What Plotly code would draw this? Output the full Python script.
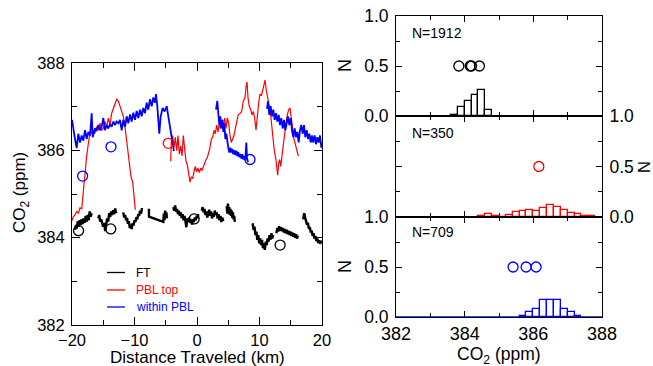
import plotly.graph_objects as go

W, H = 653, 366
FONT = "Liberation Sans, Arial, sans-serif"

# ---------------- along-track CO2 (distance in km, CO2 in ppm) ----------------
# Each series is split into flight segments; segments are drawn with gaps between them.
ft_km = [
    [-19.52, -19.36, -19.25, -19.09, -18.93, -18.77, -18.61, -18.45, -18.29, -18.13,
     -17.97, -17.81, -17.65, -17.49, -17.33, -17.17, -17.01, -16.85],
    [-15.8, -15.64, -15.49, -15.33, -15.17, -15.01, -14.85, -14.69, -14.53, -14.37,
     -14.21, -14.05, -13.89, -13.73, -13.57, -13.41, -13.25, -13.09, -12.93],
    [-11.8, -11.65, -11.5, -11.35, -11.2, -11.05, -10.9, -10.75, -10.6, -10.45, -10.3,
     -10.15, -10.0, -9.85, -9.7, -9.55, -9.4, -9.25, -9.1, -8.95, -8.8],
    [-7.7, -7.68, -5.4, -5.3, -5.2, -5.1, -5.0, -4.9, -4.8],
    [-3.8, -3.65, -3.5, -3.35, -3.2, -3.05, -2.9, -2.75, -2.6, -2.45, -2.3, -2.15, -2.0,
     -1.85, -1.7, -1.55, -1.4, -1.25, -1.1, -0.95, -0.8, -0.65, -0.5, -0.35, -0.2, -0.05,
     0.1, 0.2],
    [0.75, 0.9, 1.05, 1.2, 1.35, 1.5, 1.65, 1.8, 1.95, 2.1, 2.25, 2.4, 2.55, 2.7, 2.85,
     3.0, 3.15, 3.3, 3.45, 3.6, 3.75, 3.9, 4.05, 4.2],
    [4.75, 4.85, 4.95, 5.05, 5.15, 5.25, 5.35, 5.45, 5.55, 5.65, 5.75, 5.85, 5.95, 6.05],
    [8.9, 9.05, 9.2, 9.35, 9.5, 9.65, 9.8, 9.95, 10.1, 10.25, 10.4, 10.55, 10.7, 10.85,
     11.0, 11.15, 11.3, 11.45, 11.6, 11.75, 11.9, 12.05, 12.2],
    [12.7, 12.85, 13.0, 13.15, 13.3, 13.45, 13.6, 13.75, 13.9, 14.05, 14.2, 14.35, 14.5,
     14.65, 14.8, 14.95, 15.1, 15.25, 15.4, 15.55, 15.7, 15.85, 16.0, 16.15],
    [17.0, 17.15, 17.3, 17.45, 17.6, 17.75, 17.9, 18.05, 18.2, 18.35, 18.5, 18.65, 18.8,
     18.95, 19.1, 19.25, 19.4, 19.55, 19.7, 19.85, 20.0],
]
ft_co2 = [
    [384.18, 384.29, 384.21, 384.37, 384.25, 384.40, 384.29, 384.42, 384.31, 384.44,
     384.34, 384.50, 384.37, 384.52, 384.40, 384.60, 384.48, 384.56],
    [384.44, 384.52, 384.37, 384.42, 384.33, 384.25, 384.34, 384.15, 384.30, 384.44,
     384.37, 384.56, 384.47, 384.60, 384.52, 384.63, 384.54, 384.67, 384.56],
    [384.58, 384.46, 384.52, 384.40, 384.45, 384.32, 384.38, 384.22, 384.30, 384.20,
     384.33, 384.28, 384.40, 384.36, 384.47, 384.42, 384.54, 384.50, 384.62, 384.55, 384.68],
    [384.66, 384.48, 384.36, 384.55, 384.40, 384.62, 384.45, 384.58, 384.44],
    [384.70, 384.62, 384.74, 384.60, 384.66, 384.54, 384.62, 384.50, 384.58, 384.45,
     384.54, 384.40, 384.50, 384.30, 384.24, 384.44, 384.36, 384.46, 384.34, 384.42,
     384.30, 384.42, 384.36, 384.46, 384.40, 384.50, 384.44, 384.54],
    [384.62, 384.70, 384.58, 384.66, 384.52, 384.60, 384.46, 384.56, 384.64, 384.50,
     384.60, 384.44, 384.56, 384.48, 384.62, 384.52, 384.58, 384.44, 384.54, 384.40,
     384.50, 384.36, 384.46, 384.38],
    [384.72, 384.55, 384.78, 384.60, 384.70, 384.52, 384.66, 384.50, 384.62, 384.45,
     384.58, 384.42, 384.50, 384.36],
    [384.33, 384.18, 384.25, 384.06, 384.14, 383.95, 384.06, 383.87, 383.98, 383.83,
     383.95, 383.76, 383.87, 383.72, 383.91, 383.83, 383.98, 383.91, 384.06, 383.95,
     384.10, 383.98, 384.06],
    [384.10, 384.22, 384.14, 384.26, 384.16, 384.24, 384.15, 384.22, 384.12, 384.20,
     384.10, 384.18, 384.08, 384.16, 384.06, 384.14, 384.04, 384.12, 384.02, 384.10,
     384.00, 384.08, 383.98, 384.05],
    [384.42, 384.56, 384.46, 384.40, 384.30, 384.34, 384.20, 384.24, 384.12, 384.16,
     384.04, 384.10, 383.98, 384.04, 383.92, 383.98, 383.88, 383.94, 383.86, 383.92, 383.88],
]

pbl_top_km = [
    [-20.0, -19.79, -19.52, -19.25, -18.99, -18.72, -18.45, -18.29, -18.08, -17.87,
     -17.65, -17.44, -17.23, -17.01, -16.69, -16.37, -16.05, -15.79, -15.52, -15.25,
     -14.99, -14.72, -14.45, -14.19, -13.92, -13.65, -13.39, -13.12, -12.85, -12.59,
     -12.32, -12.05, -11.79, -11.52, -11.25, -10.99, -10.72, -10.56, -10.29, -10.08, -9.87],
    [-4.21, -4.11, -3.89, -3.68, -3.47, -3.25, -3.04, -2.83, -2.61, -2.4,
     -2.19, -1.97, -1.76, -1.55, -1.33, -1.12, -0.91, -0.69, -0.48, -0.27,
     -0.05, 0.16, 0.37, 0.59, 0.8, 1.01, 1.23, 1.44, 1.65, 1.87,
     2.08, 2.29, 2.51, 2.72, 2.93, 3.15, 3.36, 3.57, 3.79, 4.0,
     4.21, 4.43, 4.64, 4.85, 5.07, 5.28, 5.49, 5.71, 5.92, 6.13,
     6.35, 6.61, 6.88, 7.15, 7.41, 7.68, 7.84, 8.0, 8.16, 8.37,
     8.59, 8.8, 9.01, 9.23, 9.44, 9.65, 9.87, 10.08, 10.29, 10.51,
     10.72, 10.88, 11.09, 11.31, 11.52, 11.73, 11.95, 12.16, 12.37, 12.59,
     12.75, 12.91, 13.07, 13.23, 13.39, 13.6, 13.81, 14.03, 14.24, 14.45,
     14.67, 14.88, 15.09, 15.31, 15.52, 15.73, 15.95, 16.21],
]
pbl_top_co2 = [
    [384.39, 384.48, 384.52, 384.60, 384.56, 384.68, 384.66, 384.92, 385.27, 385.59,
     385.87, 386.10, 386.30, 386.38, 386.46, 386.38, 386.54, 386.46, 386.62, 386.46,
     386.50, 386.66, 386.54, 386.74, 386.58, 386.85, 386.97, 387.05, 387.17, 387.13,
     387.01, 386.93, 386.78, 386.54, 386.22, 385.95, 385.67, 385.39, 385.27, 384.92, 384.64],
    [385.75, 386.18, 386.34, 386.06, 386.30, 385.99, 386.34, 385.91, 386.10, 385.87,
     386.34, 386.03, 385.75, 385.67, 385.47, 385.27, 385.39, 385.35, 385.51, 385.63,
     385.51, 385.59, 385.49, 385.59, 385.54, 385.63, 385.69, 385.79, 385.83, 385.95,
     386.06, 386.26, 386.30, 386.46, 386.38, 386.58, 386.42, 386.62, 386.50, 386.70,
     386.58, 386.74, 386.50, 386.74, 386.62, 386.34, 386.18, 386.26, 386.34, 386.50,
     386.62, 386.82, 386.84, 386.89, 387.13, 387.21, 387.45, 387.57, 387.21, 387.01,
     386.93, 386.81, 386.89, 386.74, 386.46, 386.81, 387.09, 387.29, 387.25, 387.37,
     387.49, 387.61, 387.37, 387.17, 387.09, 386.89, 386.58, 386.22, 385.99, 385.83,
     385.67, 385.43, 385.71, 385.79, 385.63, 385.91, 386.18, 386.38, 386.62, 386.81,
     386.93, 386.97, 386.78, 386.50, 386.26, 386.14, 386.03, 385.87],
]

within_pbl_km = [
    [-20.0, -19.79, -19.52, -19.25, -18.99, -18.72, -18.45, -18.19, -17.92, -17.65,
     -17.39, -17.12, -16.85, -16.69, -16.32, -16.05, -15.79, -15.52, -15.25, -14.99,
     -14.72, -14.45, -14.19, -13.92, -13.65, -13.39, -13.12, -12.85, -12.59, -12.32,
     -12.05, -11.79, -11.52, -11.25, -10.99, -10.72, -10.45, -10.19, -9.92, -9.65,
     -9.39, -9.12, -8.85, -8.59, -8.32, -8.05, -7.79, -7.52, -7.25, -6.99,
     -6.72, -6.56, -6.35, -6.03, -5.81, -5.49, -5.17, -4.85, -4.59, -4.32,
     -4.05, -3.85, -3.7],
    [3.04, 3.25, 3.41, 3.57, 3.73, 3.89, 4.05, 4.21, 4.37, 4.53, 4.69, 4.85, 5.01, 5.17,
     5.33, 5.49, 5.65, 5.81, 5.97, 6.13, 6.29, 6.45, 6.61, 6.77, 6.93, 7.09, 7.25, 7.41,
     7.57, 7.73, 7.89, 8.0, 8.16],
    [11.2, 11.36, 11.57, 11.79, 12.0, 12.21, 12.43, 12.64, 12.85, 13.07, 13.28, 13.49,
     13.71, 13.92, 14.13, 14.35, 14.56, 14.77, 14.99, 15.2, 15.41, 15.63, 15.84, 16.05,
     16.27, 16.48, 16.69, 16.91, 17.12, 17.33, 17.55, 17.76, 17.97, 18.19, 18.4, 18.61,
     18.83, 19.04, 19.25, 19.47, 19.68, 19.89, 20.0],
]
within_pbl_co2 = [
    [386.70, 386.46, 386.26, 386.05, 386.38, 386.18, 386.34, 386.22, 386.46, 386.26,
     386.42, 386.34, 386.85, 386.30, 386.50, 386.46, 386.58, 386.46, 386.54, 386.74,
     386.46, 386.58, 386.50, 386.60, 386.54, 386.66, 386.58, 386.66, 386.62, 386.70,
     386.46, 386.70, 386.54, 386.78, 386.62, 386.82, 386.66, 386.86, 386.70, 386.90,
     386.74, 386.93, 386.78, 386.97, 386.85, 387.09, 386.93, 387.17, 387.01, 387.21,
     387.09, 387.29, 387.01, 386.38, 386.78, 386.97, 386.89, 387.01, 386.78, 386.54,
     386.35, 386.10, 385.98],
    [386.93, 387.13, 386.85, 386.58, 386.78, 386.50, 386.70, 386.42, 386.62, 386.26,
     386.38, 386.18, 386.06, 385.95, 386.06, 385.95, 386.03, 385.91, 386.00, 385.89,
     385.99, 385.87, 385.96, 385.84, 385.92, 385.81, 385.91, 385.79, 385.87, 385.77,
     386.18, 385.83, 385.73],
    [386.95, 387.13, 386.81, 387.01, 386.78, 386.93, 386.70, 386.85, 386.66, 386.81,
     386.58, 386.74, 386.50, 386.70, 386.46, 386.66, 386.78, 386.58, 386.74, 386.46,
     386.30, 386.50, 386.30, 386.42, 386.18, 386.46, 386.58, 386.38, 386.58, 386.30,
     386.46, 386.26, 386.38, 386.18, 386.34, 386.18, 386.34, 386.14, 386.30, 386.18,
     386.34, 386.06, 386.18],
]

# Mean values marked with open circles (left panel and histograms)
ft_mean_km = [-18.95, -13.8, -0.45, 13.3]
ft_mean_co2 = [384.16, 384.2, 384.43, 383.83]
pbl_top_mean_km = [-4.6]
pbl_top_mean_co2 = [386.16]
within_pbl_mean_km = [-18.3, -13.76, 8.48]
within_pbl_mean_co2 = [385.41, 386.08, 385.79]

# ---------------- CO2 frequency distributions (bin centres, 0.2 ppm bins) ----------------
ft_hist_co2 = [383.7, 383.9, 384.1, 384.3, 384.5, 384.7]
ft_hist_frac = [0.015, 0.093, 0.15, 0.21, 0.26, 0.06]
pbl_top_hist_co2 = [384.5, 384.7, 384.9, 385.1, 385.3, 385.5, 385.7, 385.9, 386.1,
                    386.3, 386.5, 386.7, 386.9, 387.1, 387.3, 387.5, 387.7]
pbl_top_hist_frac = [0.01, 0.033, 0.008, 0.0, 0.02, 0.045, 0.06, 0.07, 0.06,
                     0.085, 0.118, 0.102, 0.066, 0.043, 0.026, 0.014, 0.005]
within_pbl_hist_co2 = [385.7, 385.9, 386.1, 386.3, 386.5, 386.7, 386.9, 387.1, 387.3]
within_pbl_hist_frac = [0.01, 0.047, 0.085, 0.167, 0.173, 0.167, 0.085, 0.047, 0.013]

sample_counts = [1912, 350, 709]
series_names = ["FT", "PBL top", "within PBL"]
series_colors = ["black", "#ff0000", "#0000ff"]

km_ticks = [-20, -10, 0, 10, 20]
co2_ticks = [382, 384, 386, 388]
hist_co2_range = [382, 388]
bin_width = 0.2
mean_marker_level = 0.5


def joined(segments):
    out = []
    for i, seg in enumerate(segments):
        if i:
            out.append(None)
        out.extend(seg)
    return out


def px_x(p):
    return p / W


def px_y(p):
    return 1 - p / H


fig = go.Figure()

# ---- left panel: CO2 along the flight track ----
for km, co2, color, width in [
    (ft_km, ft_co2, series_colors[0], 2.4),
    (pbl_top_km, pbl_top_co2, series_colors[1], 1.2),
    (within_pbl_km, within_pbl_co2, series_colors[2], 1.8),
]:
    fig.add_trace(go.Scatter(x=joined(km), y=joined(co2), mode="lines",
                             line=dict(color=color, width=width),
                             connectgaps=False, showlegend=False,
                             xaxis="x", yaxis="y"))

for km, co2, color in [
    (ft_mean_km, ft_mean_co2, series_colors[0]),
    (pbl_top_mean_km, pbl_top_mean_co2, series_colors[1]),
    (within_pbl_mean_km, within_pbl_mean_co2, series_colors[2]),
]:
    fig.add_trace(go.Scatter(x=km, y=co2, mode="markers",
                             marker=dict(symbol="circle-open", size=10, color=color,
                                         line=dict(width=1.3)),
                             showlegend=False, xaxis="x", yaxis="y"))

# ---- right panels: normalised histograms ----
hist_sets = [
    (ft_hist_co2, ft_hist_frac, ft_mean_co2),
    (pbl_top_hist_co2, pbl_top_hist_frac, pbl_top_mean_co2),
    (within_pbl_hist_co2, within_pbl_hist_frac, within_pbl_mean_co2),
]
for i, (centres, frac, means) in enumerate(hist_sets):
    ax = str(i + 2)
    color = series_colors[i]
    fig.add_trace(go.Scatter(x=hist_co2_range, y=[0, 0], mode="lines",
                             line=dict(color=color, width=1.5), cliponaxis=False,
                             showlegend=False, xaxis="x" + ax, yaxis="y" + ax))
    fig.add_trace(go.Bar(x=centres, y=frac, width=bin_width,
                         marker=dict(color="white", line=dict(color=color, width=1.3)),
                         cliponaxis=False, showlegend=False,
                         xaxis="x" + ax, yaxis="y" + ax))
    fig.add_trace(go.Scatter(x=means, y=[mean_marker_level] * len(means), mode="markers",
                             marker=dict(symbol="circle-open", size=10, color=color,
                                         line=dict(width=1.3)),
                             cliponaxis=False, showlegend=False,
                             xaxis="x" + ax, yaxis="y" + ax))

axis_common = dict(showline=True, linecolor="black", linewidth=1, mirror="ticks",
                   ticks="inside", tickcolor="black", showgrid=False, zeroline=False,
                   fixedrange=True, automargin=False)

left_x_dom = [px_x(72), px_x(322)]
left_y_dom = [px_y(325), px_y(63)]
right_x_dom = [px_x(396), px_x(602)]
hist_y_doms = [[px_y(116), px_y(16)], [px_y(217), px_y(116)], [px_y(317), px_y(217)]]

layout = dict(
    width=W, height=H,
    margin=dict(l=0, r=0, t=0, b=0, autoexpand=False),
    paper_bgcolor="white", plot_bgcolor="white",
    font=dict(family=FONT, color="black"),
    showlegend=False,
    bargap=0,
    xaxis=dict(domain=left_x_dom, range=[-20, 20], anchor="y", tickvals=km_ticks,
               ticklen=8, ticklabelstandoff=0,
               minor=dict(dtick=5, tick0=0, ticklen=5, ticks="inside", tickcolor="black"),
               tickfont=dict(size=16.5), **axis_common),
    yaxis=dict(domain=left_y_dom, range=[382, 388], anchor="x", tickvals=co2_ticks,
               ticklen=8, ticklabelstandoff=3,
               minor=dict(dtick=1, tick0=0, ticklen=5, ticks="inside", tickcolor="black"),
               tickfont=dict(size=16.5), **axis_common),
)

for i in range(3):
    n = str(i + 2)
    layout["xaxis" + n] = dict(domain=right_x_dom, range=hist_co2_range, anchor="y" + n,
                               tickvals=co2_ticks, showticklabels=(i == 2),
                               ticklen=6, ticklabelstandoff=0,
                               minor=dict(dtick=1, tick0=0, ticklen=4,
                                          ticks="inside", tickcolor="black"),
                               tickfont=dict(size=18), layer="below traces",
                               **axis_common)
    layout["yaxis" + n] = dict(domain=hist_y_doms[i], range=[0, 1], anchor="x" + n,
                               tickmode="linear", tick0=0, dtick=0.5, tickformat=".1f",
                               side="right" if i == 1 else "left",
                               ticklen=6, ticklabelstandoff=3,
                               minor=dict(dtick=0.25, tick0=0, ticklen=4,
                                          ticks="inside", tickcolor="black"),
                               tickfont=dict(size=17.5), layer="below traces",
                               **axis_common)

fig.update_layout(**layout)

annotations = [
    dict(text="Distance Traveled (km)", x=px_x(197), y=px_y(357), font=dict(size=17)),
    dict(text="CO<sub>2</sub> (ppm)", x=px_x(21), y=px_y(193), textangle=-90,
         font=dict(size=17)),
    dict(text="CO<sub>2</sub> (ppm)", x=px_x(499), y=px_y(355.5), font=dict(size=17.5)),
    dict(text="N", x=px_x(345), y=px_y(66), textangle=-90, font=dict(size=18)),
    dict(text="N", x=px_x(644), y=px_y(167), textangle=-90, font=dict(size=16.5)),
    dict(text="N", x=px_x(345), y=px_y(267), textangle=-90, font=dict(size=18)),
]
for count, ytop in zip(sample_counts, [33, 133, 232]):
    annotations.append(dict(text=f"N={count}", x=px_x(410), y=px_y(ytop),
                            xanchor="left", font=dict(size=14)))

# legend key drawn inside the left panel
shapes = []
for name, color, yk in zip(series_names, series_colors, [272.5, 290, 307]):
    shapes.append(dict(type="line", xref="paper", yref="paper",
                       x0=px_x(107), x1=px_x(125), y0=px_y(yk), y1=px_y(yk),
                       line=dict(color=color, width=1.3)))
    annotations.append(dict(text=name, x=px_x(134), y=px_y(yk), xanchor="left",
                            font=dict(size=12, color=color)))

for a in annotations:
    a.setdefault("xref", "paper")
    a.setdefault("yref", "paper")
    a.setdefault("showarrow", False)
    a.setdefault("xanchor", "center")
    a.setdefault("yanchor", "middle")

fig.update_layout(annotations=annotations, shapes=shapes)

fig.write_html("out.html", config=dict(displayModeBar=False))
